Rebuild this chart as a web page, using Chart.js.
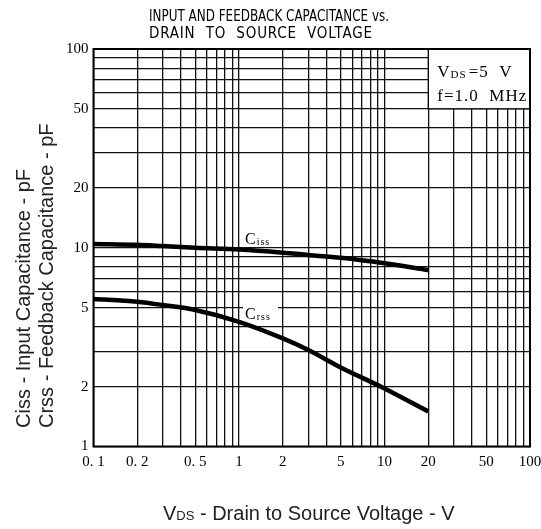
<!DOCTYPE html>
<html>
<head>
<meta charset="utf-8">
<script src="https://cdn.jsdelivr.net/npm/chart.js@4.4.1/dist/chart.umd.min.js"></script>
<style>
html, body { margin: 0; padding: 0; background: #fff; }
#wrap { width: 541px; height: 529px; position: relative; }
</style>
</head>
<body>
<div id="wrap"><canvas id="myChart"></canvas></div>
<script>
// 讀圖估計的數值
var vds = [0.1, 0.2, 0.3, 0.5, 1, 2, 3, 5, 10, 20];
var ciss = [10.45, 10.35, 10.2, 10.0, 9.8, 9.45, 9.2, 8.9, 8.35, 7.72];
var crss = [5.52, 5.35, 5.15, 4.86, 4.24, 3.5, 3.06, 2.5, 1.96, 1.5];

var xLabels = [0.1, 0.2, 0.5, 1, 2, 5, 10, 20, 50, 100];
var yLabels = [1, 2, 5, 10, 20, 50, 100];

var serif = '"Liberation Serif", "DejaVu Serif", serif';
var sans = '"Liberation Sans", Arial, sans-serif';

// 1..9 x 10^n 的格線
function gridValues(min, max) {
    var out = [];
    for (var e = Math.floor(Math.log10(min)); e <= Math.ceil(Math.log10(max)); e++) {
        for (var k = 1; k <= 9; k++) {
            var v = parseFloat((k * Math.pow(10, e)).toPrecision(3));
            if (v >= min && v <= max) out.push(v);
        }
    }
    return out;
}

// 原圖小數點後有空格 "0. 1"
function fmt(v) {
    return String(v).replace('.', '. ');
}

// 畫 C + 下標
function drawSub(ctx, x, y, main, sub, size) {
    ctx.letterSpacing = '0px';
    ctx.font = size + 'px ' + serif;
    ctx.fillText(main, x, y);
    var w = ctx.measureText(main).width;
    ctx.letterSpacing = '1px';
    ctx.font = Math.round(size * 0.65) + 'px ' + serif;
    ctx.fillText(sub, x + w + 1, y + 1);
    var w2 = ctx.measureText(sub).width;
    ctx.letterSpacing = '0px';
    return w + 1 + w2;
}

// 標題：壓縮寬度
function fitText(ctx, text, x, y, width) {
    var m = ctx.measureText(text).width;
    ctx.save();
    ctx.translate(x, y);
    ctx.scale(width / m, 1);
    ctx.fillText(text, 0, 0);
    ctx.restore();
}

// 標題：用字距撐開
function spacedText(ctx, text, x, y, width) {
    ctx.letterSpacing = '0px';
    var m = ctx.measureText(text).width;
    var sp = (width - m) / (text.length - 1);
    ctx.letterSpacing = sp.toFixed(2) + 'px';
    ctx.fillText(text, x, y);
    ctx.letterSpacing = '0px';
}

const decorations = {
    id: 'decorations',
    afterDatasetsDraw: (chart) => {
        const ctx = chart.ctx;
        const xs = chart.scales.x, ys = chart.scales.y;
        ctx.save();
        // 條件框
        var bx0 = xs.getPixelForValue(20), bx1 = xs.getPixelForValue(100);
        var by0 = ys.getPixelForValue(100), by1 = ys.getPixelForValue(50);
        ctx.fillStyle = '#fff';
        ctx.fillRect(bx0, by0, bx1 - bx0, by1 - by0);
        ctx.strokeStyle = '#000';
        ctx.lineWidth = 1.3;
        ctx.strokeRect(bx0, by0, bx1 - bx0, by1 - by0);
        ctx.fillStyle = '#000';
        ctx.textBaseline = 'alphabetic';
        ctx.textAlign = 'left';
        var tx = bx0 + 9;
        var w = drawSub(ctx, tx, by0 + 28, 'V', 'DS', 17);
        ctx.font = '17px ' + serif;
        ctx.letterSpacing = '1px';
        ctx.fillText('=5  V', tx + w + 2, by0 + 28);
        ctx.fillText('f=1.0  MHz', tx, by0 + 52);
        ctx.letterSpacing = '0px';

        // 曲線標籤
        var labels = [['C', 'iss', 1.1, 11.3], ['C', 'rss', 1.1, 4.75]];
        labels.forEach(function (l) {
            var px = xs.getPixelForValue(l[2]), py = ys.getPixelForValue(l[3]);
            ctx.fillStyle = '#fff';
            ctx.fillRect(px - 2, py - 8, 35, 17);
            ctx.fillStyle = '#000';
            drawSub(ctx, px, py + 7, l[0], l[1], 16);
        });

        // 外框
        const a = chart.chartArea;
        ctx.lineWidth = 2;
        ctx.strokeRect(a.left, a.top, a.right - a.left, a.bottom - a.top);
        ctx.restore();
    },
    afterDraw: (chart) => {
        const ctx = chart.ctx;
        ctx.save();
        ctx.fillStyle = '#000';
        ctx.textAlign = 'left';
        ctx.textBaseline = 'alphabetic';
        ctx.font = '15px "DejaVu Sans Condensed", "Liberation Sans", sans-serif';
        fitText(ctx, 'INPUT AND FEEDBACK CAPACITANCE vs.', 149, 21, 240);
        spacedText(ctx, 'DRAIN  TO  SOURCE  VOLTAGE', 149, 38, 223);

        // X 軸標題
        ctx.fillStyle = '#222';
        var x0 = 163, base = 520;
        ctx.font = '20px ' + sans;
        ctx.fillText('V', x0, base);
        var w = ctx.measureText('V').width;
        ctx.font = '13px ' + sans;
        ctx.fillText('DS', x0 + w, base);
        var w2 = ctx.measureText('DS').width;
        ctx.font = '20px ' + sans;
        ctx.fillText(' - Drain to Source Voltage - V', x0 + w + w2, base);

        // Y 軸標題（旋轉）
        ctx.rotate(-Math.PI / 2);
        ctx.font = '20px ' + sans;
        ctx.fillText('Ciss - Input Capacitance - pF', -428, 30);
        ctx.fillText('Crss - Feedback Capacitance - pF', -428, 53);
        ctx.restore();
    }
};

var ctx = document.getElementById('myChart');
var myChart = new Chart(ctx, {
    type: 'line',
    data: {
        labels: vds,
        datasets: [
            { label: 'Ciss', data: vds.map((v, i) => ({ x: v, y: ciss[i] })) },
            { label: 'Crss', data: vds.map((v, i) => ({ x: v, y: crss[i] })) }
        ]
    },
    options: {
        responsive: true,
        maintainAspectRatio: false,
        animation: false,
        layout: { padding: { top: 49, right: 11, left: 0, bottom: 0 } },
        elements: {
            line: { borderColor: '#000', borderWidth: 4.5, cubicInterpolationMode: 'monotone', fill: false },
            point: { radius: 0 }
        },
        plugins: { legend: { display: false }, tooltip: { enabled: false }, title: { display: false } },
        scales: {
            x: {
                type: 'logarithmic',
                min: 0.1, max: 100,
                afterBuildTicks: (s) => { s.ticks = gridValues(0.1, 100).map(v => ({ value: v })); },
                afterFit: (s) => { s.height = 82.5; s.paddingLeft = 0; s.paddingRight = 0; },
                grid: { color: '#111', lineWidth: 1.3, drawTicks: false },
                border: { display: false },
                ticks: {
                    autoSkip: false, maxRotation: 0, padding: 7, color: '#000',
                    font: { family: serif, size: 15 },
                    callback: (v) => xLabels.indexOf(v) >= 0 ? fmt(v) : ''
                }
            },
            y: {
                type: 'logarithmic',
                min: 1, max: 100,
                afterBuildTicks: (s) => { s.ticks = gridValues(1, 100).map(v => ({ value: v })); },
                afterFit: (s) => { s.width = 93.5; s.paddingTop = 0; s.paddingBottom = 0; },
                grid: { color: '#111', lineWidth: 1.3, drawTicks: false },
                border: { display: false },
                ticks: {
                    autoSkip: false, padding: 5, color: '#000',
                    font: { family: serif, size: 15 },
                    callback: (v) => yLabels.indexOf(v) >= 0 ? fmt(v) : ''
                }
            }
        }
    },
    plugins: [decorations]
});
</script>
</body>
</html>
